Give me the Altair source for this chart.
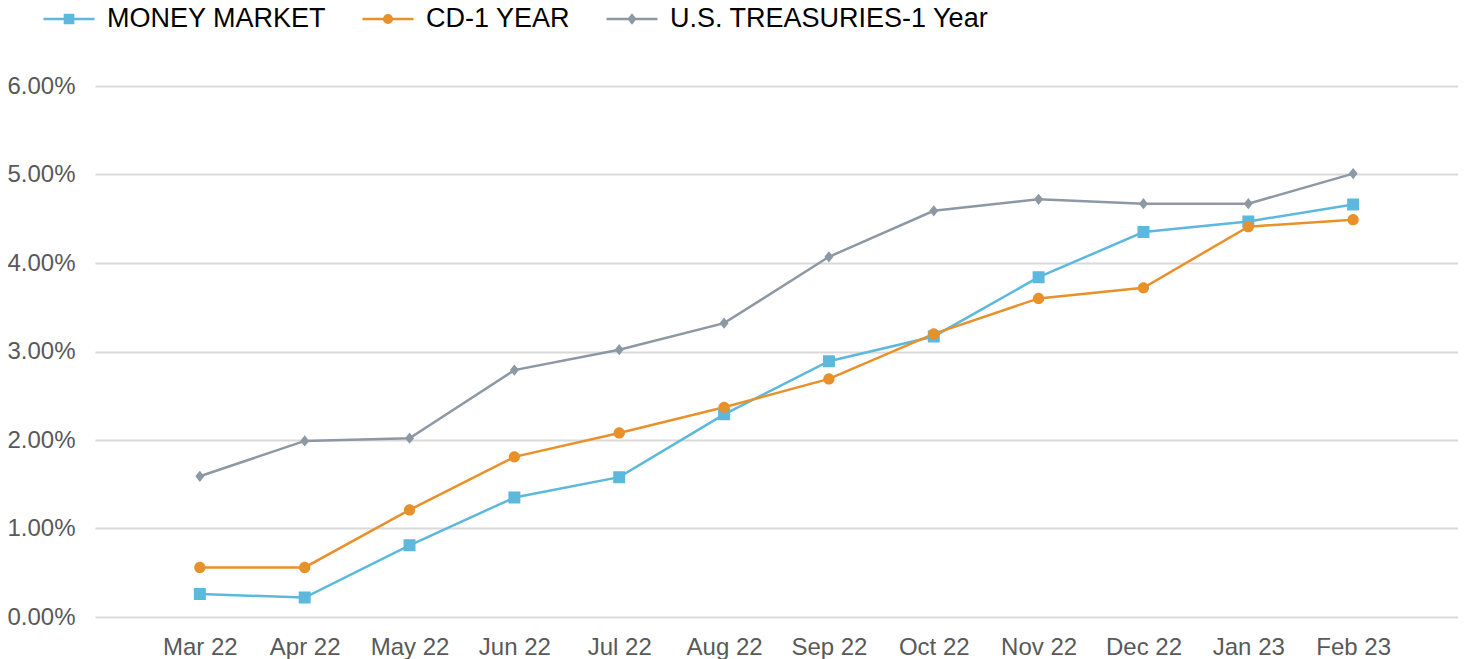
import altair as alt
import pandas as pd

months = ["Mar 22", "Apr 22", "May 22", "Jun 22", "Jul 22", "Aug 22",
          "Sep 22", "Oct 22", "Nov 22", "Dec 22", "Jan 23", "Feb 23"]
series_names = ["MONEY MARKET", "CD-1 YEAR", "U.S. TREASURIES-1 Year"]
money_market = [0.26, 0.22, 0.81, 1.35, 1.58, 2.29, 2.89, 3.17, 3.84, 4.35, 4.47, 4.66]
cd_1_year = [0.56, 0.56, 1.21, 1.81, 2.08, 2.37, 2.69, 3.20, 3.60, 3.72, 4.41, 4.49]
treasuries_1_year = [1.59, 1.99, 2.02, 2.79, 3.02, 3.32, 4.07, 4.59, 4.72, 4.67, 4.67, 5.01]
y_ticks = [0, 0.01, 0.02, 0.03, 0.04, 0.05, 0.06]

colors = ["#5cb8dc", "#e8912a", "#8d98a5"]

rows = []
for name, vals in zip(series_names, [money_market, cd_1_year, treasuries_1_year]):
    for m, v in zip(months, vals):
        rows.append({"month": m, "series": name, "value": v / 100.0})
df = pd.DataFrame(rows)

# symbol paths: horizontal stroke (visible only in legend) + filled marker
sym_square = "M-1,0L1,0M-0.16,-0.16L0.16,-0.16L0.16,0.16L-0.16,0.16Z"
sym_circle = "M-1,0L1,0M0.15,0A0.15,0.15,0,1,1,-0.15,0A0.15,0.15,0,1,1,0.15,0Z"
sym_diamond = "M-1,0L1,0M0,-0.15L0.12,0L0,0.15L-0.12,0Z"

x_enc = alt.X("month:N", sort=months, title=None,
              scale=alt.Scale(type="point", padding=1),
              axis=alt.Axis(labelAngle=0, labelFontSize=24, labelColor="#595959",
                            labelFont="Liberation Sans", domain=False, ticks=False,
                            labelPadding=18, grid=False))
y_enc = alt.Y("value:Q", title=None,
              scale=alt.Scale(domain=[0, 0.06], nice=False),
              axis=alt.Axis(values=y_ticks, format=".2%", labelFontSize=24,
                            labelColor="#595959", labelFont="Liberation Sans",
                            domain=False, ticks=False, labelPadding=20,
                            grid=True, gridColor="#d9d9d9", gridWidth=2))
color_scale = alt.Scale(domain=series_names, range=colors)

legend = alt.Legend(
    title=None, orient="none", direction="horizontal",
    legendX=-53, legendY=-94, padding=0,
    symbolSize=2601, symbolStrokeWidth=2.5, labelOffset=11,
    columnPadding=30, labelFontSize=27, labelColor="#000000",
    labelFont="Liberation Sans", labelLimit=0, symbolOpacity=1,
)

lines = alt.Chart(df).mark_line(strokeWidth=2.5).encode(
    x=x_enc, y=y_enc,
    color=alt.Color("series:N", scale=color_scale, sort=series_names, legend=legend),
)

points = alt.Chart(df).mark_point(filled=True, opacity=1).encode(
    x=x_enc, y=y_enc,
    color=alt.Color("series:N", scale=color_scale, sort=series_names, legend=legend),
    stroke=alt.Stroke("series:N", scale=color_scale, sort=series_names, legend=legend),
    shape=alt.Shape("series:N", sort=series_names, legend=legend,
                    scale=alt.Scale(domain=series_names,
                                    range=[sym_square, sym_circle, sym_diamond])),
    size=alt.value(5600),
    strokeWidth=alt.value(0),
)

chart = alt.layer(lines, points).properties(
    width=1363, height=531,
    autosize=alt.AutoSizeParams(type="none"),
    padding={"left": 87, "top": 78, "right": 0, "bottom": 42},
).configure(background="white").configure_view(strokeWidth=0, stroke=None)

chart.save("out.html", embed_options={"renderer": "svg", "actions": False})
